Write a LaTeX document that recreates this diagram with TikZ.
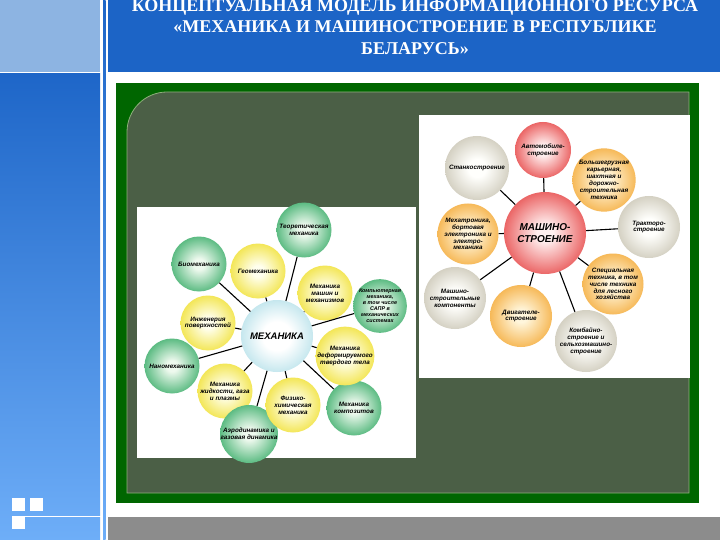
\documentclass[tikz,border=0pt]{standalone}
\usepackage{fontspec}
\setmainfont{Liberation Serif}
\newfontfamily\ballfont{Liberation Sans}
\usepackage{tikz}

\definecolor{bannerblue}{HTML}{1C64C6}
\definecolor{topblue}{HTML}{8DB4E2}
\definecolor{colblue}{HTML}{1E66C8}
\definecolor{colblue2}{HTML}{6EAEF8}
\definecolor{bandgray}{HTML}{8C8C8C}
\definecolor{framegreen}{HTML}{006600}
\definecolor{olive}{HTML}{4B5F46}
\definecolor{oliveline}{HTML}{8DB07A}

\definecolor{greencore}{HTML}{EEF9EE}
\definecolor{greenrim}{HTML}{38AC68}
\definecolor{greenedge}{HTML}{1A8444}
\definecolor{yellowcore}{HTML}{FFFFEE}
\definecolor{yellowrim}{HTML}{F0E032}
\definecolor{yellowedge}{HTML}{C8B60E}
\definecolor{cyancore}{HTML}{FFFFFF}
\definecolor{cyanrim}{HTML}{9CD6E2}
\definecolor{cyanedge}{HTML}{64B2C4}
\definecolor{redcore}{HTML}{FFF0F0}
\definecolor{redrim}{HTML}{E64444}
\definecolor{rededge}{HTML}{BC1E1E}
\definecolor{orangecore}{HTML}{FFF6DC}
\definecolor{orangerim}{HTML}{F4AA38}
\definecolor{orangeedge}{HTML}{D4861E}
\definecolor{graycore}{HTML}{FFFFFC}
\definecolor{grayrim}{HTML}{C4BFAD}
\definecolor{grayedge}{HTML}{8A8674}

\pgfdeclareradialshading{greenorb}{\pgfpoint{0bp}{0bp}}{color(0bp)=(greencore); color(5bp)=(greencore); color(30bp)=(greenrim); color(44bp)=(greenrim); color(50bp)=(greenedge)}
\pgfdeclareradialshading{yelloworb}{\pgfpoint{0bp}{0bp}}{color(0bp)=(yellowcore); color(5bp)=(yellowcore); color(30bp)=(yellowrim); color(44bp)=(yellowrim); color(50bp)=(yellowedge)}
\pgfdeclareradialshading{cyanorb}{\pgfpoint{0bp}{0bp}}{color(0bp)=(cyancore); color(10bp)=(cyancore); color(36bp)=(cyanrim); color(45bp)=(cyanrim); color(50bp)=(cyanedge)}
\pgfdeclareradialshading{redorb}{\pgfpoint{0bp}{0bp}}{color(0bp)=(redcore); color(5bp)=(redcore); color(30bp)=(redrim); color(44bp)=(redrim); color(50bp)=(rededge)}
\pgfdeclareradialshading{orangeorb}{\pgfpoint{0bp}{0bp}}{color(0bp)=(orangecore); color(5bp)=(orangecore); color(30bp)=(orangerim); color(44bp)=(orangerim); color(50bp)=(orangeedge)}
\pgfdeclareradialshading{grayorb}{\pgfpoint{0bp}{0bp}}{color(0bp)=(graycore); color(7bp)=(graycore); color(32bp)=(grayrim); color(44bp)=(grayrim); color(50bp)=(grayedge)}

\begin{document}
\begin{tikzpicture}[
		x=1pt, y=-1pt,
		ball/.style={circle, inner sep=0pt, minimum size=55pt, align=center, text=black, font=\ballfont\bfseries\itshape\fontsize{6.3}{6.9}\selectfont},
		greenball/.style={ball, shading=greenorb},
		yellowball/.style={ball, shading=yelloworb},
		cyanball/.style={ball, shading=cyanorb, minimum size=72pt, font=\ballfont\bfseries\itshape\fontsize{9.5}{11}\selectfont},
		redball/.style={ball, shading=redorb},
		orangeball/.style={ball, shading=orangeorb, minimum size=61pt},
		grayball/.style={ball, shading=grayorb, minimum size=62pt},
		link/.style={line width=1.1pt}
	]
	\useasboundingbox (0,0) rectangle (720,540);

	\fill[white] (0,0) rectangle (720,540);
	\fill[topblue] (0,0) rectangle (100,72);
	\shade[top color=colblue, bottom color=colblue2] (0,74) rectangle (100,540);
	\shade[top color=colblue, bottom color=colblue2] (103,0) rectangle (105.5,540);
	\fill[bannerblue] (108,0) rectangle (720,72);
	\fill[bandgray] (108,517) rectangle (720,540);

	\fill[white] (12,498) rectangle (25,511);
	\fill[white] (30,498) rectangle (43,511);
	\fill[white] (12,516) rectangle (25,529);
	\draw[white, line width=1.5pt] (25,516.5) -- (101,516.5);

	\node[text=white, align=center, font=\bfseries\fontsize{18}{21.5}\selectfont] (title) at (415,27) {КОНЦЕПТУАЛЬНАЯ МОДЕЛЬ ИНФОРМАЦИОННОГО РЕСУРСА\\«МЕХАНИКА И МАШИНОСТРОЕНИЕ В РЕСПУБЛИКЕ\\БЕЛАРУСЬ»};

	\fill[framegreen] (116,83) rectangle (699,503);
	\filldraw[fill=olive, draw=oliveline, line width=0.8pt] (127,493) -- (127,132) arc[start angle=180, end angle=270, radius=40] -- (689,92) -- (689,493) -- cycle;

	\fill[white] (137,207) rectangle (416,458);
	\fill[white] (419,115) rectangle (690,378);

	\node[cyanball] (meh) at (277,336) {МЕХАНИКА};
	\node[greenball] (teor) at (304,230) {Теоретическая\\механика};
	\node[greenball] (bio) at (199,264) {Биомеханика};
	\node[yellowball] (geo) at (258,271) {Геомеханика};
	\node[yellowball] (mashmeh) at (325,293) {Механика\\машин и\\механизмов};
	\node[greenball, minimum size=50pt, font=\ballfont\bfseries\itshape\fontsize{5.4}{6}\selectfont] (komp) at (380,306) {Компьютерная\\механика,\\в том числе\\САПР в\\механических\\системах};
	\node[yellowball] (inzh) at (208,323) {Инженерия\\поверхностей};
	\node[greenball] (nano) at (172,366) {Наномеханика};
	\node[yellowball] (zhidk) at (225,391) {Механика\\жидкости, газа\\и плазмы};
	\node[greenball, minimum size=57pt] (aero) at (249,434) {Аэродинамика и\\газовая динамика};
	\node[yellowball] (fizhim) at (293,405) {Физико-\\химическая\\механика};
	\node[greenball] (kompoz) at (354,408) {Механика\\композитов};
	\node[yellowball] (deform) at (345,356) {Механика\\деформируемого\\твердого тела};

	\draw[link] (meh) -- (teor);
	\draw[link] (meh) -- (bio);
	\draw[link] (meh) -- (geo);
	\draw[link] (meh) -- (mashmeh);
	\draw[link] (meh) -- (komp);
	\draw[link] (meh) -- (inzh);
	\draw[link] (meh) -- (nano);
	\draw[link] (meh) -- (zhidk);
	\draw[link] (meh) -- (aero);
	\draw[link] (meh) -- (fizhim);
	\draw[link] (meh) -- (kompoz);
	\draw[link] (meh) -- (deform);

	\node[redball, minimum size=82pt, font=\ballfont\bfseries\itshape\fontsize{10}{11.5}\selectfont] (mash) at (545,233) {МАШИНО-\\СТРОЕНИЕ};
	\node[redball, minimum size=56pt] (avto) at (543,150) {Автомобиле-\\строение};
	\node[grayball, minimum size=64pt] (stanok) at (477,168) {Станкостроение};
	\node[orangeball] (bolsh) at (604,180) {Большегрузная\\карьерная,\\шахтная и\\дорожно-\\строительная\\техника};
	\node[grayball] (traktor) at (649,227) {Тракторо-\\строение};
	\node[orangeball] (mehatr) at (468,234) {Мехатроника,\\бортовая\\электроника и\\электро-\\механика};
	\node[grayball] (komponent) at (455,298) {Машино-\\строительные\\компоненты};
	\node[orangeball, minimum size=62pt] (dvig) at (521,316) {Двигателе-\\строение};
	\node[orangeball] (spec) at (613,284) {Специальная\\техника, в том\\числе техника\\для лесного\\хозяйства};
	\node[grayball] (kombain) at (586,341) {Комбайно-\\строение и\\сельхозмашино-\\строение};

	\draw[link] (mash) -- (avto);
	\draw[link] (mash) -- (stanok);
	\draw[link] (mash) -- (bolsh);
	\draw[link] (mash) -- (traktor);
	\draw[link] (mash) -- (mehatr);
	\draw[link] (mash) -- (komponent);
	\draw[link] (mash) -- (dvig);
	\draw[link] (mash) -- (spec);
	\draw[link] (mash) -- (kombain);
\end{tikzpicture}
\end{document}
